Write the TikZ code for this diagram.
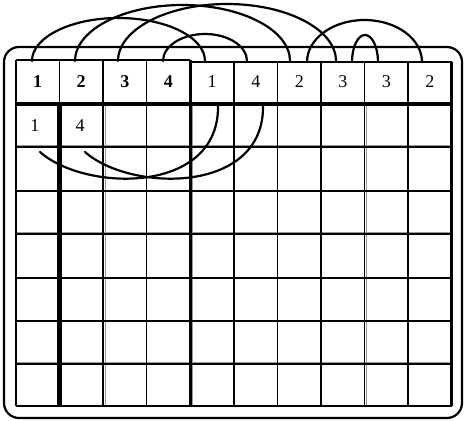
\documentclass[tikz,border=0pt]{standalone}
\usepackage{fontspec}
\setmainfont{Liberation Serif}
\begin{document}
\begin{tikzpicture}[x=1pt,y=1pt,
  gridline/.style={line width=1.9pt,black},
  thinline/.style={line width=0.5pt,black!40},
  arcline/.style={line width=2.2pt,black,line cap=round},
  frameline/.style={line width=2.2pt,black},
  celltext/.style={font=\fontsize{18}{21}\selectfont,inner sep=0pt,anchor=center},
  headbold/.style={celltext,font=\fontsize{18}{21}\selectfont\bfseries}]
\useasboundingbox (0,0) rectangle (467,421);
% outer rounded frame
\draw[frameline,rounded corners=15pt] (4,3) rectangle (462,374);
% thin gray grid underlay
\foreach \y in {274,187,57} \draw[thinline] (16,\y+1.8) -- (451.5,\y+1.8);
\foreach \x in {103,190,364.5} \draw[thinline] (\x+2,15) -- (\x+2,317);
% horizontal lines
\foreach \y in {274,230,187,143,100,57,15} \draw[gridline] (16,\y) -- (451.5,\y);
\draw[gridline] (16,361) -- (190,361);
\draw[gridline] (190,359) -- (451.5,359);
\draw[line width=4pt] (16,317) -- (451.5,317);
% vertical lines
\draw[gridline] (16,361) -- (16,15);
\draw[gridline] (59.5,361) -- (59.5,317);
\draw[line width=4.5pt] (59.5,317) -- (59.5,15);
\foreach \x in {103,146.5} \draw[gridline] (\x,361) -- (\x,15);
\draw[line width=3pt] (190,361) -- (190,15);
\foreach \x in {234,277.5,364.5,408} \draw[gridline] (\x,359) -- (\x,15);
\draw[line width=2.5pt] (321,359) -- (321,15);
\draw[line width=2.5pt] (451.5,359) -- (451.5,15);
% header texts
\node[headbold] (h1) at (37.75,339) {1};
\node[headbold] (h2) at (81.25,339) {2};
\node[headbold] (h3) at (124.75,339) {3};
\node[headbold] (h4) at (168.25,339) {4};
\node[celltext] (h5) at (212,339) {1};
\node[celltext] (h6) at (255.75,339) {4};
\node[celltext] (h7) at (299.25,339) {2};
\node[celltext] (h8) at (342.75,339) {3};
\node[celltext] (h9) at (386.25,339) {3};
\node[celltext] (h10) at (429.75,339) {2};
% body texts
\node[celltext] (b1) at (35,295) {1};
\node[celltext] (b2) at (80,295) {4};
% top arcs
\draw[arcline] (32,360) arc[start angle=180,end angle=0,x radius=86.5pt,y radius=43pt];
\draw[arcline] (75,360) arc[start angle=180,end angle=0,x radius=107.5pt,y radius=56pt];
\draw[arcline] (118,360) arc[start angle=180,end angle=0,x radius=109pt,y radius=57pt];
\draw[arcline] (163,360) arc[start angle=180,end angle=0,x radius=42pt,y radius=27pt];
\draw[arcline] (307,359) arc[start angle=180,end angle=0,x radius=57.5pt,y radius=42pt];
\draw[arcline] (352,359) arc[start angle=180,end angle=0,x radius=13pt,y radius=27pt];
% body curves
\draw[arcline] (40,269) .. controls (85,229) and (220,226) .. (218,316);
\draw[arcline] (85,269) .. controls (130,229) and (265,226) .. (263,316);
\end{tikzpicture}
\end{document}
